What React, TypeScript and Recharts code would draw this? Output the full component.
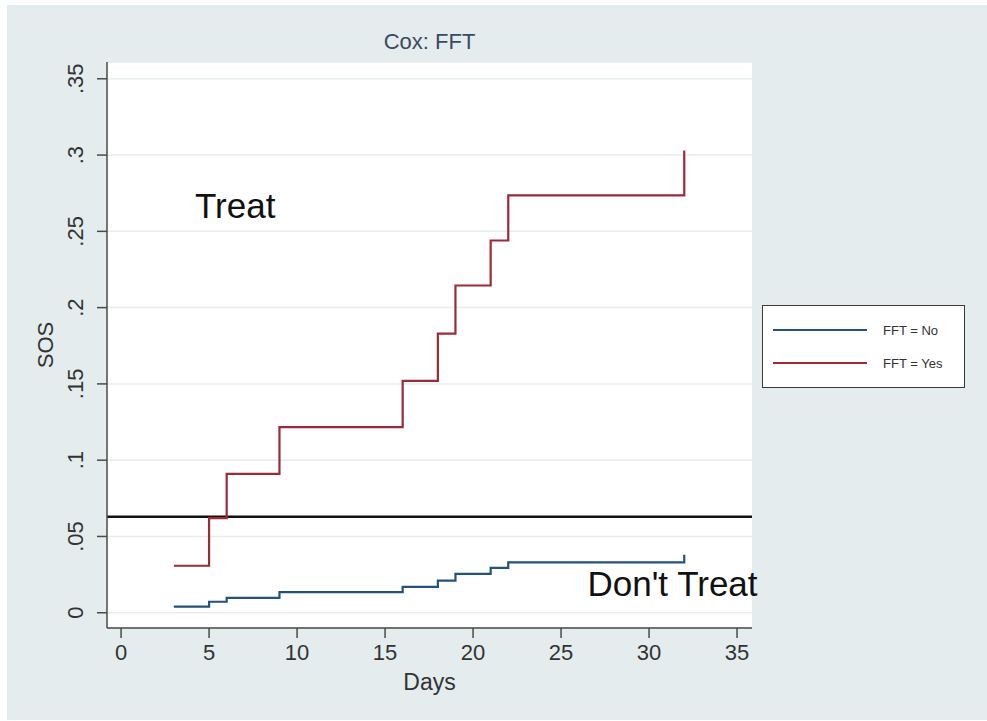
import React from 'react';
import { LineChart, Line, XAxis, YAxis, CartesianGrid, ReferenceLine, ReferenceDot } from 'recharts';

const days = [3, 5, 6, 9, 16, 18, 19, 21, 22, 32];
const fftNo = [0.004, 0.0072, 0.0098, 0.0135, 0.017, 0.021, 0.0255, 0.0294, 0.033, 0.038];
const fftYes = [0.0308, 0.062, 0.091, 0.1217, 0.152, 0.183, 0.2145, 0.244, 0.2736, 0.303];
const xTicks = [0, 5, 10, 15, 20, 25, 30, 35];
const yTicks = [0, 0.05, 0.1, 0.15, 0.2, 0.25, 0.3, 0.35];
const yTickLabels = ['0', '.05', '.1', '.15', '.2', '.25', '.3', '.35'];
const threshold = 0.063;
const seriesNames = ['FFT = No', 'FFT = Yes'];
const annotations = [
  { text: 'Treat', day: 4.2, value: 0.259 },
  { text: "Don't Treat", day: 26.5, value: 0.0111 },
];

const data = days.map((d, i) => ({ day: d, no: fftNo[i], yes: fftYes[i] }));

const FONT = "'Liberation Sans', Arial, Helvetica, sans-serif";
const RED = '#9c2a3a';
const BLUE = '#24527c';
const AXIS = '#4a4a4a';

const YTick = (props: any) => {
  const { x, y, payload } = props;
  const idx = yTicks.indexOf(payload.value);
  const label = idx >= 0 ? yTickLabels[idx] : String(payload.value);
  return (
    <text x={x} y={y} transform={`rotate(-90 ${x} ${y})`} textAnchor="middle" fontSize={22} fill="#333" fontFamily={FONT}>
      {label}
    </text>
  );
};

const XTick = (props: any) => {
  const { x, y, payload } = props;
  return (
    <text x={x} y={y} dy="0.71em" textAnchor="middle" fontSize={22} fill="#333" fontFamily={FONT}>
      {payload.value}
    </text>
  );
};

const LegendBox = () => {
  const items = [
    { name: seriesNames[0], color: BLUE },
    { name: seriesNames[1], color: RED },
  ];
  return (
    <div style={{ position: 'absolute', left: 762, top: 305, width: 201, height: 81, border: '1.5px solid #3a3a3a', background: '#fff', fontFamily: FONT }}>
      {items.map((it, i) => (
        <div key={i} style={{ position: 'absolute', left: 10, top: 16 + i * 33, display: 'flex', alignItems: 'center', height: 16 }}>
          <div style={{ width: 94, height: 2, background: it.color }} />
          <span style={{ marginLeft: 16, fontSize: 13, color: '#333', whiteSpace: 'nowrap' }}>{it.name}</span>
        </div>
      ))}
    </div>
  );
};

export default function App() {
  return (
    <div style={{ position: 'absolute', left: 0, top: 0, width: 987, height: 721, background: '#fff' }}>
      <div style={{ position: 'absolute', left: 7, top: 5, width: 980, height: 715, background: '#e4ecee' }} />
      <div style={{ position: 'absolute', left: 0, top: 0 }}>
        <LineChart width={987} height={721} data={data} margin={{ top: 62, right: 235, bottom: 33, left: 47 }}>
          <CartesianGrid vertical={false} fill="#ffffff" stroke="#e6eded" strokeWidth={1.5} />
          <XAxis
            type="number"
            dataKey="day"
            domain={[-0.8, 35.85]}
            ticks={xTicks}
            allowDataOverflow
            height={60}
            tickSize={10}
            tickMargin={6}
            stroke={AXIS}
            strokeWidth={1.5}
            tick={<XTick />}
            label={{
              content: (p: any) => (
                <text x={p.viewBox.x + p.viewBox.width / 2} y={p.viewBox.y + 62} textAnchor="middle" fontSize={23} fill="#333" fontFamily={FONT}>
                  Days
                </text>
              ),
            }}
          />
          <YAxis
            type="number"
            domain={[-0.01, 0.361]}
            ticks={yTicks}
            allowDataOverflow
            width={60}
            tickSize={10}
            tickMargin={14}
            stroke={AXIS}
            strokeWidth={1.5}
            tick={<YTick />}
            label={{
              content: (p: any) => {
                const lx = p.viewBox.x + 6;
                const ly = p.viewBox.y + p.viewBox.height / 2;
                return (
                  <text x={lx} y={ly} transform={`rotate(-90 ${lx} ${ly})`} textAnchor="middle" fontSize={22} fill="#333" fontFamily={FONT}>
                    SOS
                  </text>
                );
              },
            }}
          />
          <ReferenceLine y={threshold} stroke="#111" strokeWidth={2.5} />
          <Line type="stepAfter" dataKey="no" name={seriesNames[0]} stroke={BLUE} strokeWidth={2.2} dot={false} isAnimationActive={false} />
          <Line type="stepAfter" dataKey="yes" name={seriesNames[1]} stroke={RED} strokeWidth={2.2} dot={false} isAnimationActive={false} />
          {annotations.map((a, i) => (
            <ReferenceDot
              key={i}
              x={a.day}
              y={a.value}
              r={0}
              fill="none"
              stroke="none"
              ifOverflow="visible"
              label={{
                content: (p: any) => (
                  <text x={p.viewBox.x} y={p.viewBox.y} textAnchor="start" fontSize={35} fill="#111" fontFamily={FONT}>
                    {a.text}
                  </text>
                ),
              }}
            />
          ))}
        </LineChart>
      </div>
      <LegendBox />
      <div style={{ position: 'absolute', left: 107, width: 645, top: 29, textAlign: 'center', fontSize: 22, color: '#3b4a63', fontFamily: FONT }}>
        Cox: FFT
      </div>
    </div>
  );
}
